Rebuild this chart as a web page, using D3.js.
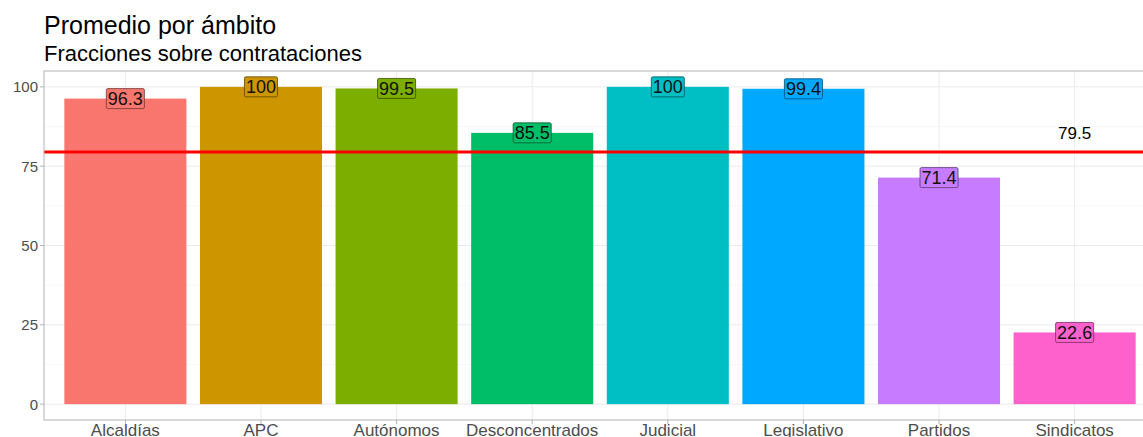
<!DOCTYPE html>
<html><head><meta charset="utf-8">
<script src="https://cdn.jsdelivr.net/npm/d3@7"></script>
<style>body{margin:0;background:#fff;} svg{display:block;font-family:"Liberation Sans",Arial,sans-serif;}</style>
</head><body>
<svg id="c" width="1143" height="437"></svg>
<script>
const categories = ["Alcaldías","APC","Autónomos","Desconcentrados","Judicial","Legislativo","Partidos","Sindicatos"];
const values = [96.3,100,99.5,85.5,100,99.4,71.4,22.6];
const barColors = ["#F8766D","#CD9600","#7CAE00","#00BE67","#00BFC4","#00A9FF","#C77CFF","#FF61CC"];
const meanValue = 79.5;
const yTicks = [0,25,50,75,100];
const yMinor = [12.5,37.5,62.5,87.5];
const titleText = "Promedio por ámbito";
const subtitleText = "Fracciones sobre contrataciones";

const svg = d3.select("#c");
const m = {left:44, top:71, right:1156, bottom:420};
const x = d3.scaleBand().domain(categories).range([m.left, m.right]).paddingInner(0.1).paddingOuter(0.15);
const y = d3.scaleLinear().domain([-5,105]).range([m.bottom, m.top]);

// grid
const g = svg.append("g");
g.selectAll(".ymin").data(yMinor).join("line").attr("x1",m.left).attr("x2",m.right)
  .attr("y1",d=>y(d)).attr("y2",d=>y(d)).attr("stroke","#f4f4f4").attr("stroke-width",0.6);
g.selectAll(".ymaj").data(yTicks).join("line").attr("x1",m.left).attr("x2",m.right)
  .attr("y1",d=>y(d)).attr("y2",d=>y(d)).attr("stroke","#ebebeb").attr("stroke-width",1);
g.selectAll(".xmaj").data(categories).join("line").attr("y1",m.top).attr("y2",m.bottom)
  .attr("x1",d=>x(d)+x.bandwidth()/2).attr("x2",d=>x(d)+x.bandwidth()/2).attr("stroke","#ebebeb").attr("stroke-width",1);

// bars
svg.append("g").selectAll("rect").data(categories).join("rect")
  .attr("x",d=>x(d)).attr("width",x.bandwidth())
  .attr("y",(d,i)=>y(values[i])).attr("height",(d,i)=>y(0)-y(values[i]))
  .attr("fill",(d,i)=>barColors[i]);

// mean line
svg.append("line").attr("x1",m.left).attr("x2",m.right).attr("y1",y(meanValue)).attr("y2",y(meanValue))
  .attr("stroke","#ff0000").attr("stroke-width",3);
svg.append("text").attr("x",x(categories[7])+x.bandwidth()/2).attr("y",y(meanValue)-13)
  .attr("text-anchor","middle").attr("font-size",17).attr("fill","#000").text(meanValue);

// labels
const lg = svg.append("g");
categories.forEach((c,i)=>{
  const cx = x(c)+x.bandwidth()/2, cy = y(values[i]);
  const t = lg.append("text").attr("x",cx).attr("y",cy+6.5).attr("text-anchor","middle")
    .attr("font-size",18).attr("fill","#111").text(values[i]);
  const bb = t.node().getBBox();
  lg.insert("rect","text").attr("x",bb.x-1.5).attr("y",cy-10).attr("width",bb.width+3).attr("height",20)
    .attr("rx",1.5).attr("fill",barColors[i]).attr("stroke",d3.color(barColors[i]).darker(2.2)).attr("stroke-width",0.8);
});

// panel border
svg.append("rect").attr("x",m.left).attr("y",m.top).attr("width",m.right-m.left).attr("height",m.bottom-m.top)
  .attr("fill","none").attr("stroke","#b3b3b3").attr("stroke-width",1);

// axes
const ya = svg.append("g");
yTicks.forEach(t=>{
  ya.append("line").attr("x1",m.left-4).attr("x2",m.left).attr("y1",y(t)).attr("y2",y(t)).attr("stroke","#b3b3b3");
  ya.append("text").attr("x",m.left-6).attr("y",y(t)+5.5).attr("text-anchor","end").attr("font-size",15).attr("fill","#4d4d4d").text(t);
});
categories.forEach(c=>{
  const cx = x(c)+x.bandwidth()/2;
  ya.append("line").attr("x1",cx).attr("x2",cx).attr("y1",m.bottom).attr("y2",m.bottom+4).attr("stroke","#b3b3b3");
  ya.append("text").attr("x",cx).attr("y",436).attr("text-anchor","middle").attr("font-size",17).attr("fill","#4d4d4d").text(c);
});

// titles
svg.append("text").attr("x",44).attr("y",34).attr("font-size",25).attr("fill","#000").text(titleText);
svg.append("text").attr("x",44).attr("y",61).attr("font-size",22).attr("fill","#000").text(subtitleText);
</script>
</body></html>
